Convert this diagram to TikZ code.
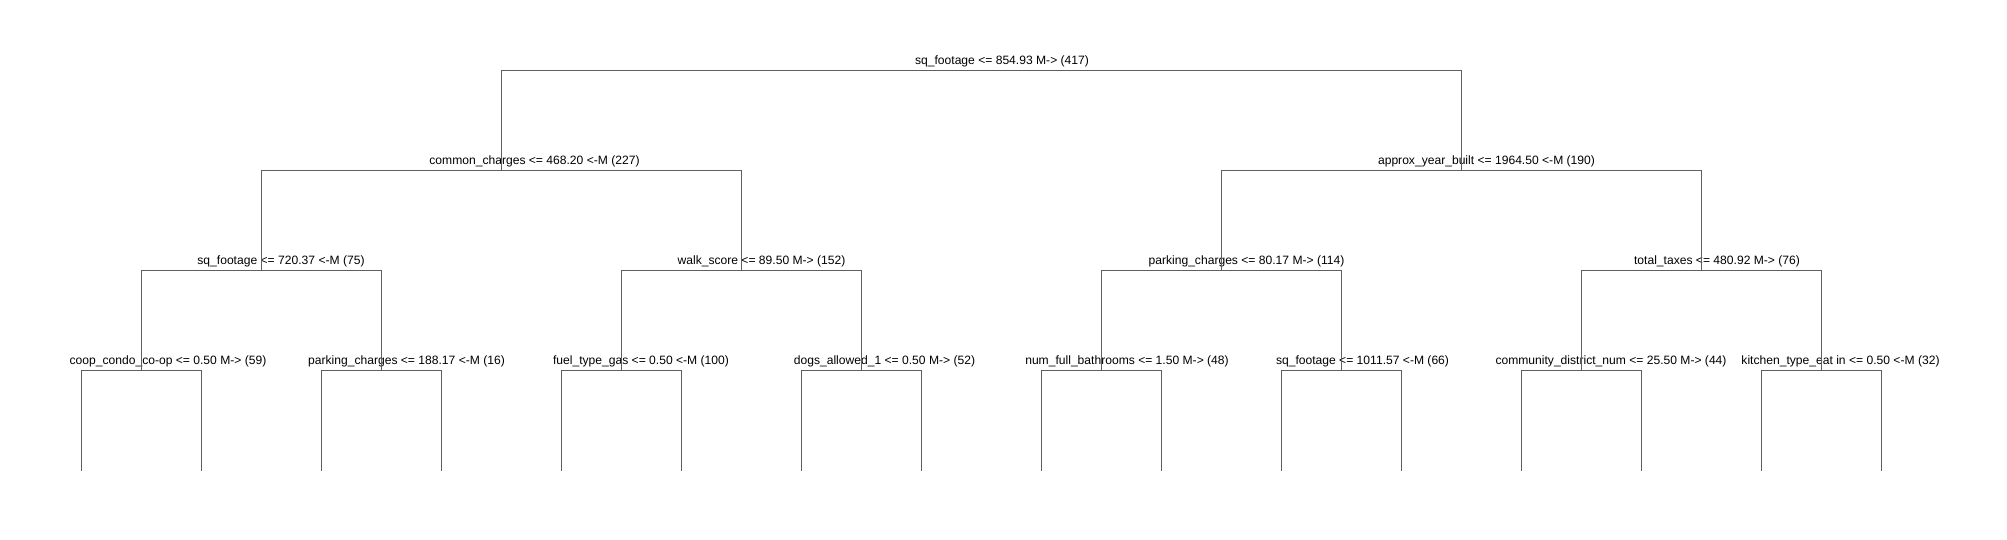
\documentclass[tikz,border=0pt]{standalone}
\usepackage{fontspec}
\setmainfont{Liberation Sans}
\definecolor{treegray}{HTML}{5F5F5F}
\begin{document}
\begin{tikzpicture}[x=1pt,y=1pt,
  lbl/.style={anchor=base, inner sep=0pt, font=\fontsize{12.1}{14}\selectfont},
  edge/.style={draw=treegray, line width=1pt}]
\useasboundingbox (0,0) rectangle (2007,540);
% split points
\coordinate (r)  at (981,469);
\coordinate (a)  at (501,369);
\coordinate (b)  at (1461,369);
\coordinate (aa) at (261,269);
\coordinate (ab) at (741,269);
\coordinate (ba) at (1221,269);
\coordinate (bb) at (1701,269);
\coordinate (n1) at (141,169);
\coordinate (n2) at (381,169);
\coordinate (n3) at (621,169);
\coordinate (n4) at (861,169);
\coordinate (n5) at (1101,169);
\coordinate (n6) at (1341,169);
\coordinate (n7) at (1581,169);
\coordinate (n8) at (1821,169);
% leaves
\foreach \i/\x in {1/141,2/381,3/621,4/861,5/1101,6/1341,7/1581,8/1821}{
  \coordinate (l\i a) at (\x-60,69);
  \coordinate (l\i b) at (\x+60,69);
}
% labels
\node[lbl] (tr)  at (1002,475) {sq\_footage <= 854.93 M-> (417)};
\node[lbl] (ta)  at (534.5,375) {common\_charges <= 468.20 <-M (227)};
\node[lbl] (tb)  at (1486.5,375) {approx\_year\_built <= 1964.50 <-M (190)};
\node[lbl] (taa) at (281,275) {sq\_footage <= 720.37 <-M (75)};
\node[lbl] (tab) at (761.5,275) {walk\_score <= 89.50 M-> (152)};
\node[lbl] (tba) at (1246.5,275) {parking\_charges <= 80.17 M-> (114)};
\node[lbl] (tbb) at (1717,275) {total\_taxes <= 480.92 M-> (76)};
\node[lbl] (t1) at (168,175) {coop\_condo\_co-op <= 0.50 M-> (59)};
\node[lbl] (t2) at (406.5,175) {parking\_charges <= 188.17 <-M (16)};
\node[lbl] (t3) at (641,175) {fuel\_type\_gas <= 0.50 <-M (100)};
\node[lbl] (t4) at (884.5,175) {dogs\_allowed\_1 <= 0.50 M-> (52)};
\node[lbl] (t5) at (1127,175) {num\_full\_bathrooms <= 1.50 M-> (48)};
\node[lbl] (t6) at (1362.5,175) {sq\_footage <= 1011.57 <-M (66)};
\node[lbl] (t7) at (1611,175) {community\_district\_num <= 25.50 M-> (44)};
\node[lbl] (t8) at (1840.5,175) {kitchen\_type\_eat in <= 0.50 <-M (32)};
% connectors
\draw[edge] (a) -- (a |- r) -- (b |- r) -- (b);
\draw[edge] (aa) -- (aa |- a) -- (ab |- a) -- (ab);
\draw[edge] (ba) -- (ba |- b) -- (bb |- b) -- (bb);
\draw[edge] (n1) -- (n1 |- aa) -- (n2 |- aa) -- (n2);
\draw[edge] (n3) -- (n3 |- ab) -- (n4 |- ab) -- (n4);
\draw[edge] (n5) -- (n5 |- ba) -- (n6 |- ba) -- (n6);
\draw[edge] (n7) -- (n7 |- bb) -- (n8 |- bb) -- (n8);
\foreach \i in {1,...,8}{
  \draw[edge] (l\i a) -- (l\i a |- n\i) -- (l\i b |- n\i) -- (l\i b);
}
\end{tikzpicture}
\end{document}
